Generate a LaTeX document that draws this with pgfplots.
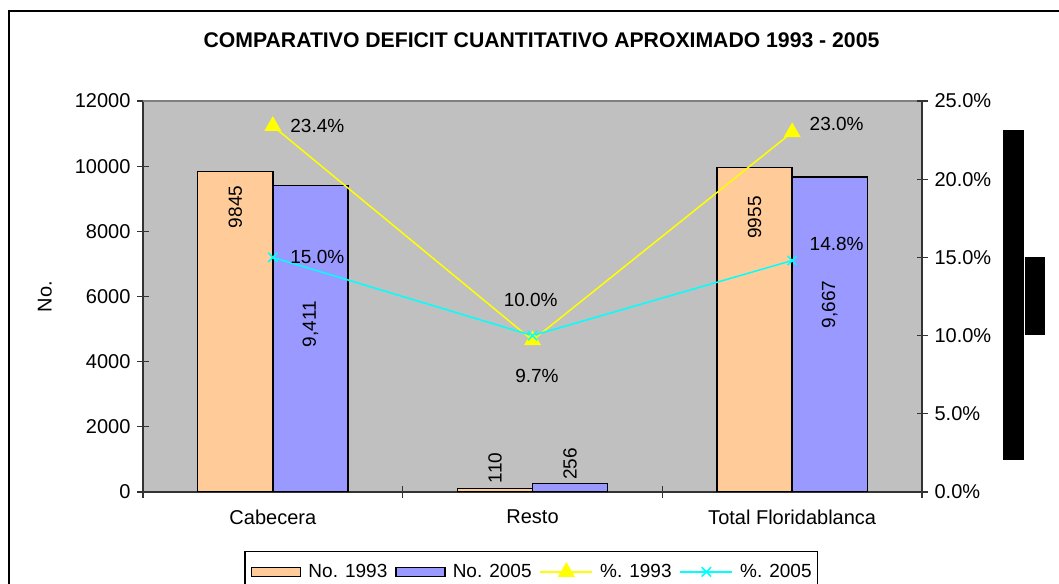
\documentclass[border=0pt]{standalone}
\usepackage{fontspec}
\setmainfont{Liberation Sans}
\usepackage{pgfplots}
\pgfplotsset{compat=1.18}
\definecolor{barA}{HTML}{FFCC99}
\definecolor{barB}{HTML}{9999FF}
\definecolor{plotbg}{HTML}{C0C0C0}
\definecolor{lnA}{HTML}{FFFF00}
\definecolor{lnB}{HTML}{00FFFF}
\newcommand{\lbl}{\fontsize{9.5}{11}\selectfont}
\newcommand{\tlbl}{\fontsize{10}{12}\selectfont}
\pgfplotsset{
  barleg/.style={draw=black, line width=0.7pt,
    legend image code/.code={\draw[##1] (0pt,-2.3pt) rectangle (24.5pt,2.3pt);}},
  lineleg/.style={
    legend image code/.code={\draw[mark repeat=2,mark phase=2,##1] plot coordinates {(0pt,0pt) (13pt,0pt) (26pt,0pt)};}},
  common/.style={
    at={(71.5pt,45.5pt)}, anchor=south west, scale only axis,
    width=389.5pt, height=195.5pt,
    xmin=-0.5, xmax=2.5,
    tick align=center, major tick length=5.5pt,
    tick style={black!80, line width=0.6pt},
    ticklabel style={font=\tlbl},
    /pgf/number format/assume math mode=true,
  }
}
\begin{document}
\begin{tikzpicture}
\useasboundingbox (0,0) rectangle (529.5pt,291.5pt);
\clip (0,0) rectangle (529.5pt,291.5pt);
\draw[line width=1pt] (4.5pt,-20pt) -- (4.5pt,286pt) -- (560pt,286pt);
\node[font=\bfseries\fontsize{10.6}{12}\selectfont] at (270.75pt,271.5pt)
  {COMPARATIVO DEFICIT CUANTITATIVO APROXIMADO 1993 - 2005};
% black blocks at the right edge
\fill[black] (501.5pt,61.5pt) rectangle (512pt,226.5pt);
\fill[black] (512.5pt,124pt) rectangle (522.5pt,163pt);

\begin{axis}[common,
    ymin=0, ymax=12000,
    axis background/.style={fill=plotbg},
    axis x line*=bottom, axis y line*=left,
    axis line style={black!80, line width=0.7pt},
    ytick={0,2000,...,12000}, scaled y ticks=false,
    yticklabel style={/pgf/number format/.cd, 1000 sep={}},
    xtick={-0.5,0.5,1.5,2.5}, xticklabel=\empty,
    extra x ticks={0,1,2},
    extra x tick labels={Cabecera,Resto,Total Floridablanca},
    extra x tick style={major tick length=0pt, xticklabel style={yshift=-5.5pt}},
    ylabel={No.},
    ylabel style={at={(axis description cs:-0.126,0.5)}, anchor=center, font=\tlbl},
  ]
  \draw[gray, line width=0.7pt] (rel axis cs:0,1) -- (rel axis cs:1,1);
  \addplot[ybar, bar width=0.289, bar shift=-0.1445, fill=barA, draw=black, line width=0.7pt]
    coordinates {(0,9845) (1,110) (2,9955)};
  \addplot[ybar, bar width=0.289, bar shift=0.1445, fill=barB, draw=black, line width=0.7pt]
    coordinates {(0,9411) (1,256) (2,9667)};
  \node[rotate=90, font=\lbl] at (axis cs:-0.1445,8747) {9845};
  \node[rotate=90, font=\lbl] at (axis cs:0.1445,5156) {9,411};
  \node[rotate=90, font=\lbl] at (axis cs:0.8555,737) {110};
  \node[rotate=90, font=\lbl] at (axis cs:1.1445,859) {256};
  \node[rotate=90, font=\lbl] at (axis cs:1.8555,8425) {9955};
  \node[rotate=90, font=\lbl] at (axis cs:2.1445,5755) {9,667};
\end{axis}

\begin{axis}[common,
    ymin=0, ymax=25,
    axis x line=none, axis y line*=right,
    axis line style={black!80, line width=0.7pt},
    ytick={0,5,...,25},
    yticklabel={\pgfmathprintnumber[fixed,fixed zerofill,precision=1]{\tick}\%},
    legend style={at={(rel axis cs:0.4985,-0.151)}, anchor=north,
      legend columns=4, draw=black, line width=0.7pt, fill=white,
      font=\lbl, nodes={inner xsep=0pt},
      inner ysep=4pt, inner xsep=3pt,
      /tikz/every odd column/.append style={column sep=3.5pt},
      /tikz/every even column/.append style={column sep=4pt}},
  ]
  \addlegendimage{barleg, fill=barA}
  \addlegendimage{barleg, fill=barB}
  \addplot[lineleg, color=lnA, line width=0.75pt, mark=triangle*, mark size=4.2pt,
    mark options={fill=lnA, solid}]
    coordinates {(0,23.4) (1,9.7) (2,23.0)};
  \addplot[lineleg, color=lnB, line width=0.75pt, mark=x, mark size=3.3pt,
    mark options={solid}]
    coordinates {(0,15.0) (1,10.0) (2,14.8)};
  \legend{No. 1993, No. 2005, \%. 1993, \%. 2005}
  \node[anchor=west, inner sep=0pt, font=\lbl] at (axis cs:0.066,23.4) {23.4\%};
  \node[anchor=west, inner sep=0pt, font=\lbl] at (axis cs:0.066,15.03) {15.0\%};
  \node[inner sep=0pt, font=\lbl] at (axis cs:0.993,12.3) {10.0\%};
  \node[inner sep=0pt, font=\lbl] at (axis cs:1.017,7.42) {9.7\%};
  \node[anchor=west, inner sep=0pt, font=\lbl] at (axis cs:2.066,23.53) {23.0\%};
  \node[anchor=west, inner sep=0pt, font=\lbl] at (axis cs:2.066,15.88) {14.8\%};
\end{axis}
\end{tikzpicture}
\end{document}
